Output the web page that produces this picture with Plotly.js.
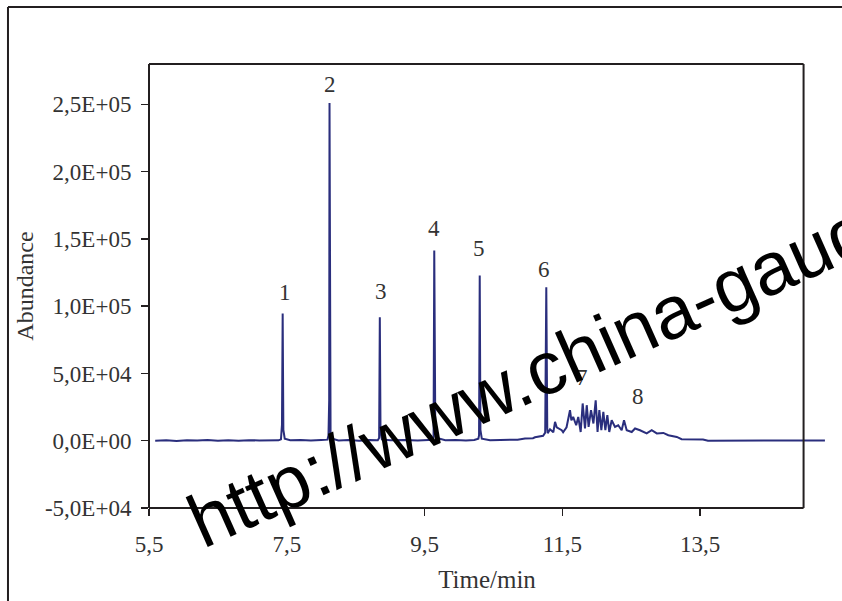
<!DOCTYPE html>
<html>
<head>
<meta charset="utf-8">
<script src="https://cdn.plot.ly/plotly-3.0.1.min.js"></script>
<style>
  html, body { margin: 0; padding: 0; background: #ffffff; }
  #chart { width: 842px; height: 601px; }
</style>
</head>
<body>
<div id="chart"></div>
<script>
// ---- Data ----
const timeMin = [
  5.59, 5.75, 5.90, 6.05, 6.20, 6.35, 6.50, 6.65, 6.80, 6.95, 7.10, 7.25, 7.38,
  7.415, 7.43, 7.44, 7.45, 7.47,
  7.55, 7.70, 7.85, 8.00, 8.09,
  8.105, 8.115, 8.12, 8.135, 8.16,
  8.25, 8.40, 8.55, 8.70, 8.82,
  8.84, 8.85, 8.86, 8.88,
  9.00, 9.20, 9.40, 9.55, 9.62,
  9.63, 9.64, 9.655, 9.68,
  9.80, 9.95, 10.10, 10.22, 10.28,
  10.29, 10.30, 10.31, 10.33,
  10.45, 10.60, 10.75, 10.85, 10.957, 11.073, 11.102, 11.204, 11.22, 11.25,
  11.266, 11.28, 11.287, 11.32, 11.368, 11.393, 11.417, 11.49, 11.51, 11.56,
  11.61, 11.63, 11.656, 11.70, 11.73, 11.765, 11.794, 11.828, 11.853, 11.88,
  11.915, 11.95, 11.983, 12.01, 12.036, 12.065, 12.094, 12.123, 12.152, 12.18,
  12.215, 12.263, 12.31, 12.36, 12.394, 12.433, 12.506, 12.554, 12.626, 12.723,
  12.796, 12.87, 12.965, 13.037, 13.16, 13.23, 13.54, 13.613,
  14.00, 14.50, 15.00, 15.31
];
const abundance = [
  0, 300, -200, 400, 100, 500, 0, 300, -100, 400, 200, 500, 300,
  1000, 12000, 94500, 8000, 1500,
  300, 600, 100, 500, 800,
  4000, 30000, 251000, 6000, 1500,
  200, 600, 0, 500, 300,
  2000, 91700, 7000, 1000,
  300, 600, 200, 500, 700,
  3000, 141400, 10000, 2000,
  400, 600, 200, 500, 1500,
  4000, 122800, 8000, 1500,
  300, 500, 400, 800, 1640, 1860, 2600, 3350, 3700, 6000,
  114100, 9000, 5600, 8550, 6300, 14000, 10000, 7800, 6300, 10000,
  22700, 15200, 17700, 11500, 17700, 6500, 27700, 9100, 26400, 10300,
  22700, 12800, 30100, 6500, 22700, 7800, 21400, 7800, 19000, 6500,
  15200, 10300, 11500, 7800, 15200, 7800, 6500, 9100, 7800, 5400,
  7800, 5400, 5800, 4100, 2800, 1100, 900, 0,
  200, 100, 200, 100
];

const peakLabels = ["1", "2", "3", "4", "5", "6", "7", "8"];
const peakLabelTime = [7.47, 8.13, 8.87, 9.64, 10.29, 11.23, 11.78, 12.60];
const peakLabelAbundance = [110400, 265000, 111200, 158000, 143100, 127500, 47200, 33100];

const xTickVals = [5.5, 7.5, 9.5, 11.5, 13.5];
const xTickText = ["5,5", "7,5", "9,5", "11,5", "13,5"];
const yTickVals = [-50000, 0, 50000, 100000, 150000, 200000, 250000];
const yTickText = ["-5,0E+04", "0,0E+00", "5,0E+04", "1,0E+05", "1,5E+05", "2,0E+05", "2,5E+05"];

// ---- Layout ----
const xRange = [5.5, 15.311];
const yRange = [-50000, 280000];
const frameEnd = 15.0;
const frameRight = (frameEnd - xRange[0]) / (xRange[1] - xRange[0]);
const frameColor = "#231f20";
const serif = "Liberation Serif, Times New Roman, serif";

const trace = {
  x: timeMin,
  y: abundance,
  type: "scatter",
  mode: "lines",
  line: { color: "#2a2e7d", width: 2 },
  hoverinfo: "x+y"
};

const annotations = peakLabels.map((t, i) => ({
  x: peakLabelTime[i], y: peakLabelAbundance[i],
  xref: "x", yref: "y", text: t, showarrow: false,
  font: { family: serif, size: 23, color: "#333333" }
}));

annotations.push({
  xref: "paper", yref: "paper", x: 0.726, y: 0.41,
  xanchor: "center", yanchor: "middle",
  text: "http://www.china-gauges.com",
  showarrow: false, textangle: -24,
  font: { family: "Liberation Sans, Arial, sans-serif", size: 75, color: "#000000" }
});

const shapes = [
  // plot frame
  { type: "line", xref: "paper", yref: "paper", x0: 0, x1: 0, y0: 0, y1: 1, line: { color: frameColor, width: 2 } },
  { type: "line", xref: "paper", yref: "paper", x0: 0, x1: frameRight, y0: 0, y1: 0, line: { color: frameColor, width: 2 } },
  { type: "line", xref: "paper", yref: "paper", x0: 0, x1: frameRight, y0: 1, y1: 1, line: { color: frameColor, width: 2 } },
  { type: "line", xref: "paper", yref: "paper", x0: frameRight, x1: frameRight, y0: 0, y1: 1, line: { color: frameColor, width: 2 } },
  // outer frame
  { type: "line", xref: "paper", yref: "paper", x0: -0.2086, x1: -0.2086, y0: 1.1284, y1: -0.25, line: { color: frameColor, width: 2 } },
  { type: "line", xref: "paper", yref: "paper", x0: -0.2086, x1: 1.05, y0: 1.1284, y1: 1.1284, line: { color: frameColor, width: 2 } }
];

const layout = {
  width: 842, height: 601,
  margin: { l: 149, r: 17, t: 64, b: 93 },
  paper_bgcolor: "#ffffff", plot_bgcolor: "#ffffff",
  showlegend: false,
  font: { family: serif, color: "#333333" },
  xaxis: {
    range: xRange, showgrid: false, zeroline: false, showline: false,
    tickmode: "array", tickvals: xTickVals, ticktext: xTickText,
    ticks: "outside", ticklen: 7, tickwidth: 1.5, tickcolor: frameColor,
    ticklabelstandoff: 8,
    tickfont: { family: serif, size: 23, color: "#333333" },
    title: { text: "Time/min", font: { family: serif, size: 25, color: "#333333" }, standoff: 14 },
    automargin: false
  },
  yaxis: {
    range: yRange, showgrid: false, zeroline: false, showline: false,
    tickmode: "array", tickvals: yTickVals, ticktext: yTickText,
    ticks: "outside", ticklen: 7, tickwidth: 1.5, tickcolor: frameColor,
    ticklabelstandoff: 5,
    tickfont: { family: serif, size: 23, color: "#333333" },
    title: { text: "Abundance", font: { family: serif, size: 24, color: "#333333" }, standoff: 4 },
    automargin: false
  },
  annotations: annotations,
  shapes: shapes
};

Plotly.newPlot("chart", [trace], layout, { staticPlot: true, displayModeBar: false });
</script>
</body>
</html>
